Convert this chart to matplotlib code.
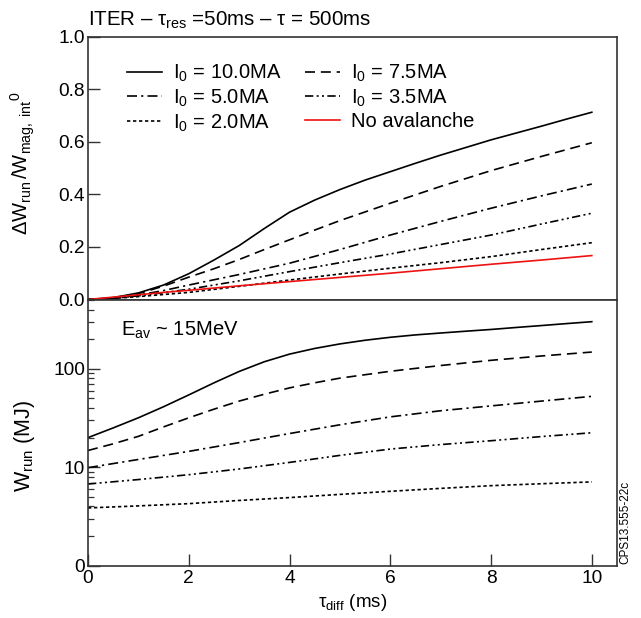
import matplotlib
matplotlib.use("Agg")
import matplotlib.pyplot as plt
import numpy as np
from matplotlib.ticker import FixedLocator, NullFormatter, LogLocator

plt.rcParams['font.family'] = ['Liberation Sans', 'DejaVu Sans']
plt.rcParams['mathtext.fontset'] = 'custom'
plt.rcParams['mathtext.rm'] = 'Liberation Sans'
plt.rcParams['mathtext.it'] = 'Liberation Sans:italic'
plt.rcParams['mathtext.bf'] = 'Liberation Sans:bold'

# ---------------- data ----------------
# top panel: fraction of magnetic energy converted
t_top_fine = [0, 0.5, 1, 1.5, 2, 2.5, 3, 3.5, 4, 4.5, 5, 5.5, 6, 6.5, 7, 7.5, 8, 8.5, 9, 9.5, 10]
frac_10 = [0, 0.007, 0.025, 0.055, 0.098, 0.15, 0.205, 0.27, 0.332, 0.378, 0.418, 0.454, 0.486,
           0.518, 0.549, 0.578, 0.607, 0.633, 0.659, 0.686, 0.712]
frac_75 = [0, 0.006, 0.022, 0.051, 0.085, 0.117, 0.152, 0.19, 0.227, 0.264, 0.3, 0.333, 0.366,
           0.398, 0.43, 0.46, 0.49, 0.517, 0.544, 0.57, 0.596]
t_top = [0, 0.5, 1, 1.5, 2, 3, 4, 5, 6, 7, 8, 9, 10]
frac_50 = [0, 0.005, 0.017, 0.034, 0.055, 0.095, 0.138, 0.19, 0.245, 0.297, 0.347, 0.394, 0.439]
frac_35 = [0, 0.004, 0.014, 0.026, 0.039, 0.071, 0.106, 0.14, 0.173, 0.209, 0.245, 0.287, 0.328]
frac_20 = [0, 0.004, 0.011, 0.019, 0.027, 0.05, 0.074, 0.097, 0.119, 0.14, 0.163, 0.19, 0.216]
frac_noav = [0, 0.009, 0.018, 0.027, 0.035, 0.052, 0.068, 0.084, 0.1, 0.117, 0.134, 0.15, 0.167]

# bottom panel: runaway energy (MJ)
t_bot_fine = [0, 0.5, 1, 1.5, 2, 2.5, 3, 3.5, 4, 4.5, 5, 5.5, 6, 6.5, 7, 7.5, 8, 8.5, 9, 9.5, 10]
wrun_10 = [20, 25.1, 31.8, 41.2, 54.3, 72, 94, 118, 141, 161, 179, 195, 209, 221, 231, 241,
           251, 263, 275, 288, 301]
t_bot = [0, 0.5, 1, 1.5, 2, 2.5, 3, 3.5, 4, 4.5, 5, 5.5, 6, 7, 8, 9, 10]
wrun_75 = [14.8, 17.3, 20.6, 25.7, 31.8, 38.9, 47, 55.2, 64, 72.1, 80.4, 87.1, 94.4, 108, 122, 135, 148]
t_bot_c = [0, 1, 2, 3, 4, 5, 6, 7, 8, 9, 10]
wrun_50 = [9.9, 12.0, 14.5, 17.8, 22, 27, 32.5, 37.5, 42, 47, 52.5]
wrun_35 = [6.76, 7.5, 8.4, 9.6, 11.2, 13.2, 15.3, 17.0, 18.6, 20.5, 22.4]
wrun_20 = [3.86, 4.05, 4.27, 4.6, 4.92, 5.3, 5.7, 6.1, 6.5, 6.8, 7.1]

labels = [r'$\mathregular{I_0}$ = 10.0MA', r'$\mathregular{I_0}$ = 7.5MA',
          r'$\mathregular{I_0}$ = 5.0MA', r'$\mathregular{I_0}$ = 3.5MA',
          r'$\mathregular{I_0}$ = 2.0MA', 'No avalanche']

xticks = [0, 2, 4, 6, 8, 10]
yticks_top = [0.0, 0.2, 0.4, 0.6, 0.8, 1.0]
yticks_bot = [1, 10, 100]
yticklabels_bot = ['0', '10', '100']

# ---------------- styles ----------------
lw = 1.2
styles = ['-', (0, (6, 3.5)), (0, (6, 2.5, 1.3, 2.5)), (0, (5, 2, 1.2, 2, 1.2, 2)), (0, (2, 1.6))]
spine_c = '#333333'

fig = plt.figure(figsize=(6.41, 6.18), dpi=100)
L, R = 88 / 641, 617 / 641
ax1 = fig.add_axes([L, 1 - 299.5 / 618, R - L, 263 / 618])
ax2 = fig.add_axes([L, 1 - 565.7 / 618, R - L, 265.7 / 618])

top_series = [(t_top_fine, frac_10), (t_top_fine, frac_75), (t_top, frac_50),
              (t_top, frac_35), (t_top, frac_20)]
handles = []
for (xs, ys), ls in zip(top_series, styles):
    h, = ax1.plot(xs, ys, color='black', lw=lw, linestyle=ls)
    handles.append(h)
h, = ax1.plot(t_top, frac_noav, color='#ee1111', lw=lw)
handles.append(h)

bot_series = [(t_bot_fine, wrun_10), (t_bot, wrun_75), (t_bot_c, wrun_50),
              (t_bot_c, wrun_35), (t_bot_c, wrun_20)]
for (xs, ys), ls in zip(bot_series, styles):
    ax2.plot(xs, ys, color='black', lw=lw, linestyle=ls)

for ax in (ax1, ax2):
    ax.set_xlim(0, 10.5)
    for s in ax.spines.values():
        s.set_color(spine_c)
        s.set_linewidth(1.2)
    ax.tick_params(direction='in', length=8.5, width=1.0, color=spine_c,
                   labelsize=13.8, top=False, right=False)
    ax.tick_params(which='minor', direction='in', length=4.5, width=0.9, color=spine_c)

ax1.set_ylim(0, 1.0)
ax1.set_yticks(yticks_top)
ax1.set_yticklabels(['%.1f' % v for v in yticks_top])
ax1.set_xticks([])
ax1.tick_params(axis='y', pad=2)

ax2.set_yscale('log')
ax2.set_ylim(1, 500)
ax2.yaxis.set_major_locator(FixedLocator(yticks_bot))
ax2.set_yticklabels(yticklabels_bot)
ax2.yaxis.set_minor_locator(LogLocator(base=10, subs=np.arange(2, 10)))
ax2.yaxis.set_minor_formatter(NullFormatter())
ax2.set_xticks(xticks)
ax2.set_xticklabels([str(v) for v in xticks])
ax2.tick_params(axis='x', pad=3)
ax2.tick_params(axis='y', pad=2)

ax1.set_ylabel(r'$\mathregular{\Delta W_{run}\,/W_{mag,\ int}{}^{0}}$', fontsize=14.5)
ax1.yaxis.set_label_coords(-0.097, 0.52)
ax2.set_ylabel(r'$\mathregular{W_{run}}$ (MJ)', fontsize=15.5)
ax2.yaxis.set_label_coords(-0.097, 0.45)
ax2.set_xlabel(r'$\mathregular{τ_{diff}}$ (ms)', fontsize=13.5, labelpad=4)

fig.text(L, 1 - 26 / 618, r'ITER – $\mathregular{τ_{res}}$ =50ms – τ = 500ms',
         fontsize=14.8, ha='left', va='baseline')

ax2.text(0.062, 0.864, r'$\mathregular{E_{av}}$ ~ 15MeV', transform=ax2.transAxes,
         fontsize=14.5, ha='left', va='baseline')

fig.text(625 / 641, 1 - 522 / 618, 'CPS13.555-22c', rotation=90, fontsize=8.5,
         ha='center', va='center')

# row-major legend order (matplotlib fills columns first)
order = [0, 2, 4, 1, 3, 5]
ax1.legend([handles[i] for i in order], [labels[i] for i in order],
           loc='upper left', bbox_to_anchor=(0.073, 0.90),
           ncol=2, frameon=False, fontsize=14.5, handlelength=1.74,
           handletextpad=0.55, columnspacing=1.2, labelspacing=0.17,
           borderpad=0, borderaxespad=0)

fig.savefig('out.png', dpi=100)
